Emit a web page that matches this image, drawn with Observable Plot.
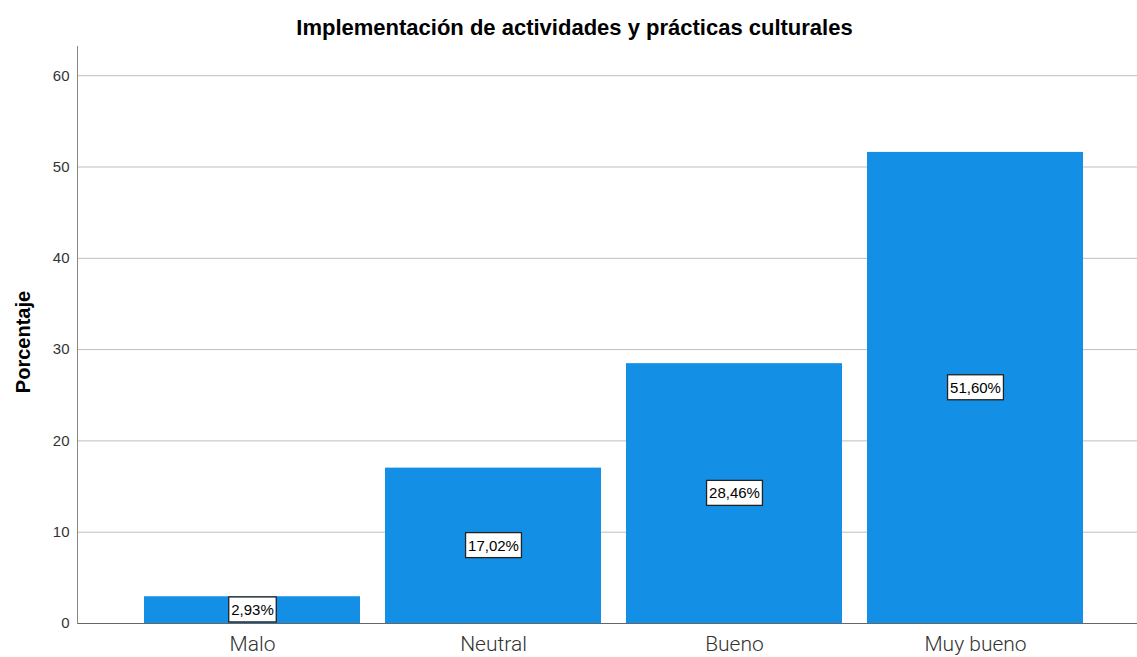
<!DOCTYPE html>
<html>
<head>
<meta charset="utf-8">
<script src="https://cdn.jsdelivr.net/npm/d3@7"></script>
<script src="https://cdn.jsdelivr.net/npm/@observablehq/plot@0.6"></script>
<style>
  html, body { margin: 0; padding: 0; background: #fff; }
  #title { height: 40px; line-height: 56px; text-align: center; font-family: "Liberation Sans", Arial, sans-serif; font-weight: bold; font-size: 22px; color: #000; padding-left: 12px; box-sizing: border-box; }
  #chart svg { display: block; }
</style>
</head>
<body>
<div id="title">Implementación de actividades y prácticas culturales</div>
<div id="chart"></div>
<script>
const categories = ["Malo", "Neutral", "Bueno", "Muy bueno"];
const values = [2.93, 17.02, 28.46, 51.60];
const yTicks = [0, 10, 20, 30, 40, 50, 60];
const yLabel = "Porcentaje";

const data = categories.map((c, i) => ({cat: c, value: values[i]}));
const fmt = v => v.toFixed(2).replace(".", ",") + "%";

const plot = Plot.plot({
  width: 1137,
  height: 617,
  marginTop: 6,
  marginBottom: 34,
  marginLeft: 77,
  marginRight: 0,
  style: {fontFamily: "'Liberation Sans', Arial, sans-serif", background: "#fff", fontSize: "15px"},
  x: {domain: categories, paddingInner: 0.104, paddingOuter: 0.251, align: 0.55},
  y: {domain: [0, 63.2]},
  marks: [
    Plot.gridY(yTicks.filter(t => t > 0), {stroke: "#bdbdbd", strokeOpacity: 1}),
    Plot.barY(data, {x: "cat", y: "value", fill: "#1390E5"}),
    Plot.ruleY([0], {stroke: "#666", strokeWidth: 1.2}),
    Plot.frame({anchor: "left", stroke: "#888"}),
    Plot.axisY({ticks: yTicks, tickSize: 0, tickPadding: 8, fontSize: 15, fill: "#333",
      label: yLabel, labelAnchor: "center", labelArrow: "none", labelOffset: 62, className: "yax"}),
    Plot.axisX({tickSize: 0, tickPadding: 13, fontSize: 21, fill: "#333", label: null,
      fontFamily: "Roboto, sans-serif", fontWeight: 300}),
    Plot.text(data, {x: "cat", y: d => d.value / 2, text: d => fmt(d.value), fontSize: 15, fill: "#000", className: "vlbl"})
  ]
});
document.getElementById("chart").appendChild(plot);

// y tick labels size
plot.querySelectorAll("g[aria-label='y-axis tick label']").forEach(g => {
  g.setAttribute("font-size", "15");
  g.querySelectorAll("text").forEach(t => t.setAttribute("font-size", "15"));
});

// style the y label
plot.querySelectorAll("g[aria-label='y-axis label'] text").forEach(t => {
  t.setAttribute("font-weight", "bold");
  t.setAttribute("font-size", "20");
  t.setAttribute("fill", "#000");
  t.setAttribute("dx", "-7");
});

// boxes behind value labels
plot.querySelectorAll(".vlbl text").forEach(t => {
  const b = t.getBBox();
  const r = document.createElementNS("http://www.w3.org/2000/svg", "rect");
  r.setAttribute("x", b.x - 2.5);
  r.setAttribute("y", b.y - 4);
  r.setAttribute("width", b.width + 5);
  r.setAttribute("height", b.height + 8);
  r.setAttribute("fill", "#fff");
  r.setAttribute("stroke", "#222");
  r.setAttribute("stroke-width", 1.3);
  const tr = t.getAttribute("transform");
  if (tr) r.setAttribute("transform", tr);
  t.parentNode.insertBefore(r, t);
});
</script>
</body>
</html>
